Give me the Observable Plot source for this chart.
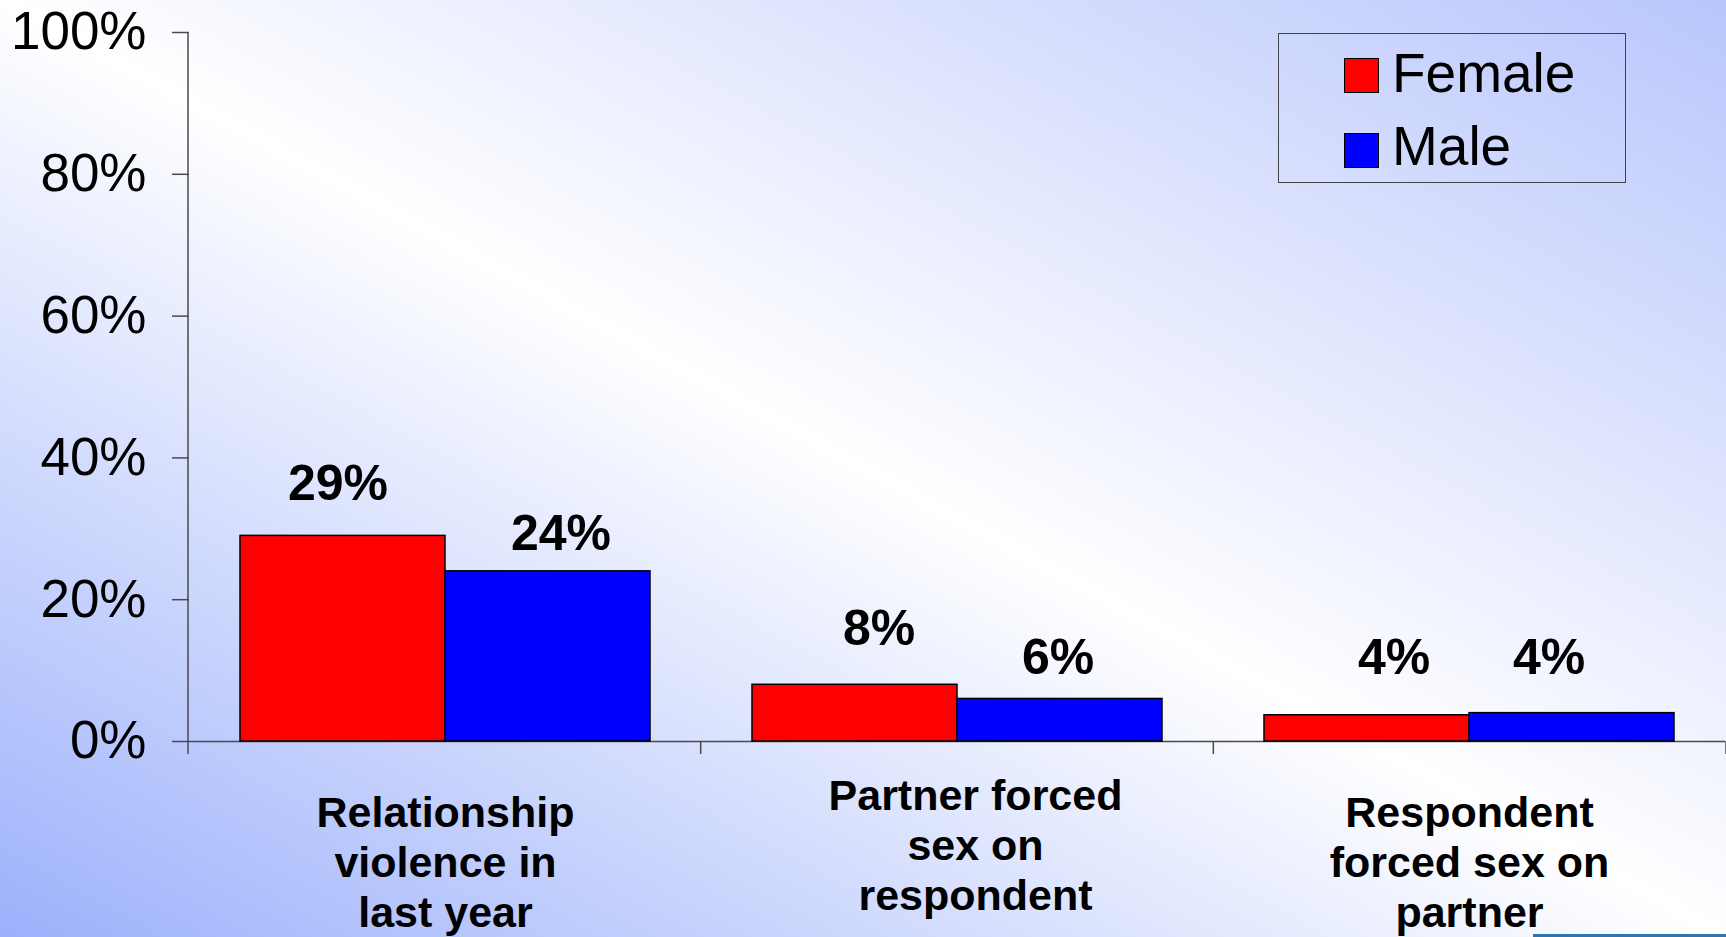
<!DOCTYPE html>
<html>
<head>
<meta charset="utf-8">
<script src="https://cdn.jsdelivr.net/npm/d3@7"></script>
<script src="https://cdn.jsdelivr.net/npm/@observablehq/plot@0.6"></script>
<style>
  html, body { margin: 0; padding: 0; width: 1726px; height: 937px; overflow: hidden; }
  body {
    background: linear-gradient(to top right, #9cb1fb 0%, #ffffff 50%, #b9c6fc 100%);
    font-family: "Liberation Sans", Arial, sans-serif;
    position: relative;
  }
  #chart { position: absolute; left: 0; top: 0; }
  #legend {
    position: absolute; left: 1278px; top: 33px; width: 348px; height: 150px;
    border: 1.5px solid #444; box-sizing: border-box;
  }
  .lg-sw { position: absolute; width: 35px; height: 35px; box-sizing: border-box; border: 1.5px solid #000; }
  .lg-tx { position: absolute; font-size: 55px; line-height: 55px; color: #000; white-space: nowrap; }
  #deco { position: absolute; left: 1533px; top: 934px; width: 193px; height: 3px; background: #2e75b6; }
</style>
</head>
<body>
<div id="chart"></div>
<div id="legend"></div>
<div id="deco"></div>
<script>
// ---- data ----
const categories = [
  "Relationship violence in last year",
  "Partner forced sex on respondent",
  "Respondent forced sex on partner"
];
const categoryLabels = [
  "Relationship\nviolence in\nlast year",
  "Partner forced\nsex on\nrespondent",
  "Respondent\nforced sex on\npartner"
];
const series = ["Female", "Male"];
const seriesColors = ["#ff0000", "#0000ff"];
const femaleValues = [29, 8, 3.7];
const maleValues = [24, 6, 4.0];
const femaleLabels = ["29%", "8%", "4%"];
const maleLabels = ["24%", "6%", "4%"];
const yTicks = [0, 20, 40, 60, 80, 100];

// ---- label nudges (style only: pixel offsets of each value label from its bar top-centre) ----
const femaleNudge = [[-5, -52], [24, -56], [27, -57]];
const maleNudge = [[13, -37], [-2, -41], [-23, -55]];

// ---- table ----
const rows = [];
categories.forEach((c, i) => {
  rows.push({category: c, sex: series[0], value: femaleValues[i], label: femaleLabels[i], nudge: femaleNudge[i]});
  rows.push({category: c, sex: series[1], value: maleValues[i], label: maleLabels[i], nudge: maleNudge[i]});
});
const labelOf = new Map(categories.map((c, i) => [c, categoryLabels[i]]));

const W = 1726, H = 937;
const axisColor = "#4a4a4a";

const valueLabelMarks = rows.map(r => Plot.text([r], {
  fx: "category", x: "sex", y: "value", text: "label",
  lineAnchor: "middle", dx: r.nudge[0], dy: r.nudge[1],
  fontSize: 50, fontWeight: "bold", fill: "#000"
}));

const plot = Plot.plot({
  width: W,
  height: H,
  marginLeft: 188,
  marginRight: 0,
  marginTop: 32,
  marginBottom: 196,
  style: {background: "transparent", overflow: "visible", fontFamily: "'Liberation Sans', Arial, sans-serif", color: "#000"},
  fx: {domain: categories, padding: 0, axis: null},
  x: {domain: series, paddingInner: 0, paddingOuter: 0.245, axis: null},
  y: {
    domain: [0, 100], ticks: yTicks, tickFormat: d => d + "%",
    tickSize: 17, tickPadding: 26, label: null, fontSize: 53
  },
  color: {domain: series, range: seriesColors},
  marks: [
    Plot.ruleY([0], {stroke: axisColor, strokeWidth: 1.5}),
    Plot.barY(rows, {fx: "category", x: "sex", y: "value", fill: "sex", stroke: "#000", strokeWidth: 1.5}),
    ...valueLabelMarks,
    Plot.text(categories, {
      filter: (d, i) => i !== 1,
      fx: d => d, text: d => labelOf.get(d),
      frameAnchor: "bottom", lineAnchor: "top", dy: 50, lineHeight: 1.16,
      fontSize: 43, fontWeight: "bold", fill: "#000"
    }),
    Plot.text(categories, {
      filter: (d, i) => i === 1,
      fx: d => d, text: d => labelOf.get(d),
      frameAnchor: "bottom", lineAnchor: "top", dy: 33, dx: 18, lineHeight: 1.16,
      fontSize: 43, fontWeight: "bold", fill: "#000"
    })
  ]
});

document.getElementById("chart").appendChild(plot);

// y-axis styling
d3.select(plot).selectAll("[aria-label='y-axis tick label'] text, g[aria-label='y-axis'] text").attr("font-size", 53).attr("fill", "#000");
d3.select(plot).selectAll("[aria-label='y-axis tick'] path, [aria-label='y-axis tick'] line, g[aria-label='y-axis'] line").attr("stroke", axisColor).attr("stroke-width", 1.5);

// axis line and category separator ticks, from the plot's own scales
const ys = plot.scale("y");
const fxs = plot.scale("fx");
const y = d3.scaleLinear(ys.domain, ys.range);
const fx = d3.scaleBand(fxs.domain, fxs.range)
  .paddingInner(fxs.paddingInner ?? 0)
  .paddingOuter(fxs.paddingOuter ?? 0)
  .align(fxs.align ?? 0.5);
const bounds = fxs.domain.map(d => fx(d));
bounds.push(fx(fxs.domain[fxs.domain.length - 1]) + fx.bandwidth());
const g = d3.select(plot).append("g").attr("stroke", axisColor).attr("stroke-width", 1.5);
g.append("line")
  .attr("x1", bounds[0]).attr("x2", bounds[0])
  .attr("y1", y(100)).attr("y2", y(0) + 13);
bounds.slice(1).forEach(b => {
  g.append("line").attr("x1", b).attr("x2", b).attr("y1", y(0)).attr("y2", y(0) + 13);
});

// legend
const legend = document.getElementById("legend");
series.forEach((s, i) => {
  const sw = document.createElement("div");
  sw.className = "lg-sw";
  sw.style.background = seriesColors[i];
  sw.style.left = (1343 - 1278) + "px";
  sw.style.top = (i === 0 ? 57 - 33 : 132 - 33) + "px";
  legend.appendChild(sw);
  const tx = document.createElement("div");
  tx.className = "lg-tx";
  tx.textContent = s;
  tx.style.left = (1391 - 1278) + "px";
  tx.style.top = (i === 0 ? 44.5 - 33 : 117.5 - 33) + "px";
  legend.appendChild(tx);
});
</script>
</body>
</html>
